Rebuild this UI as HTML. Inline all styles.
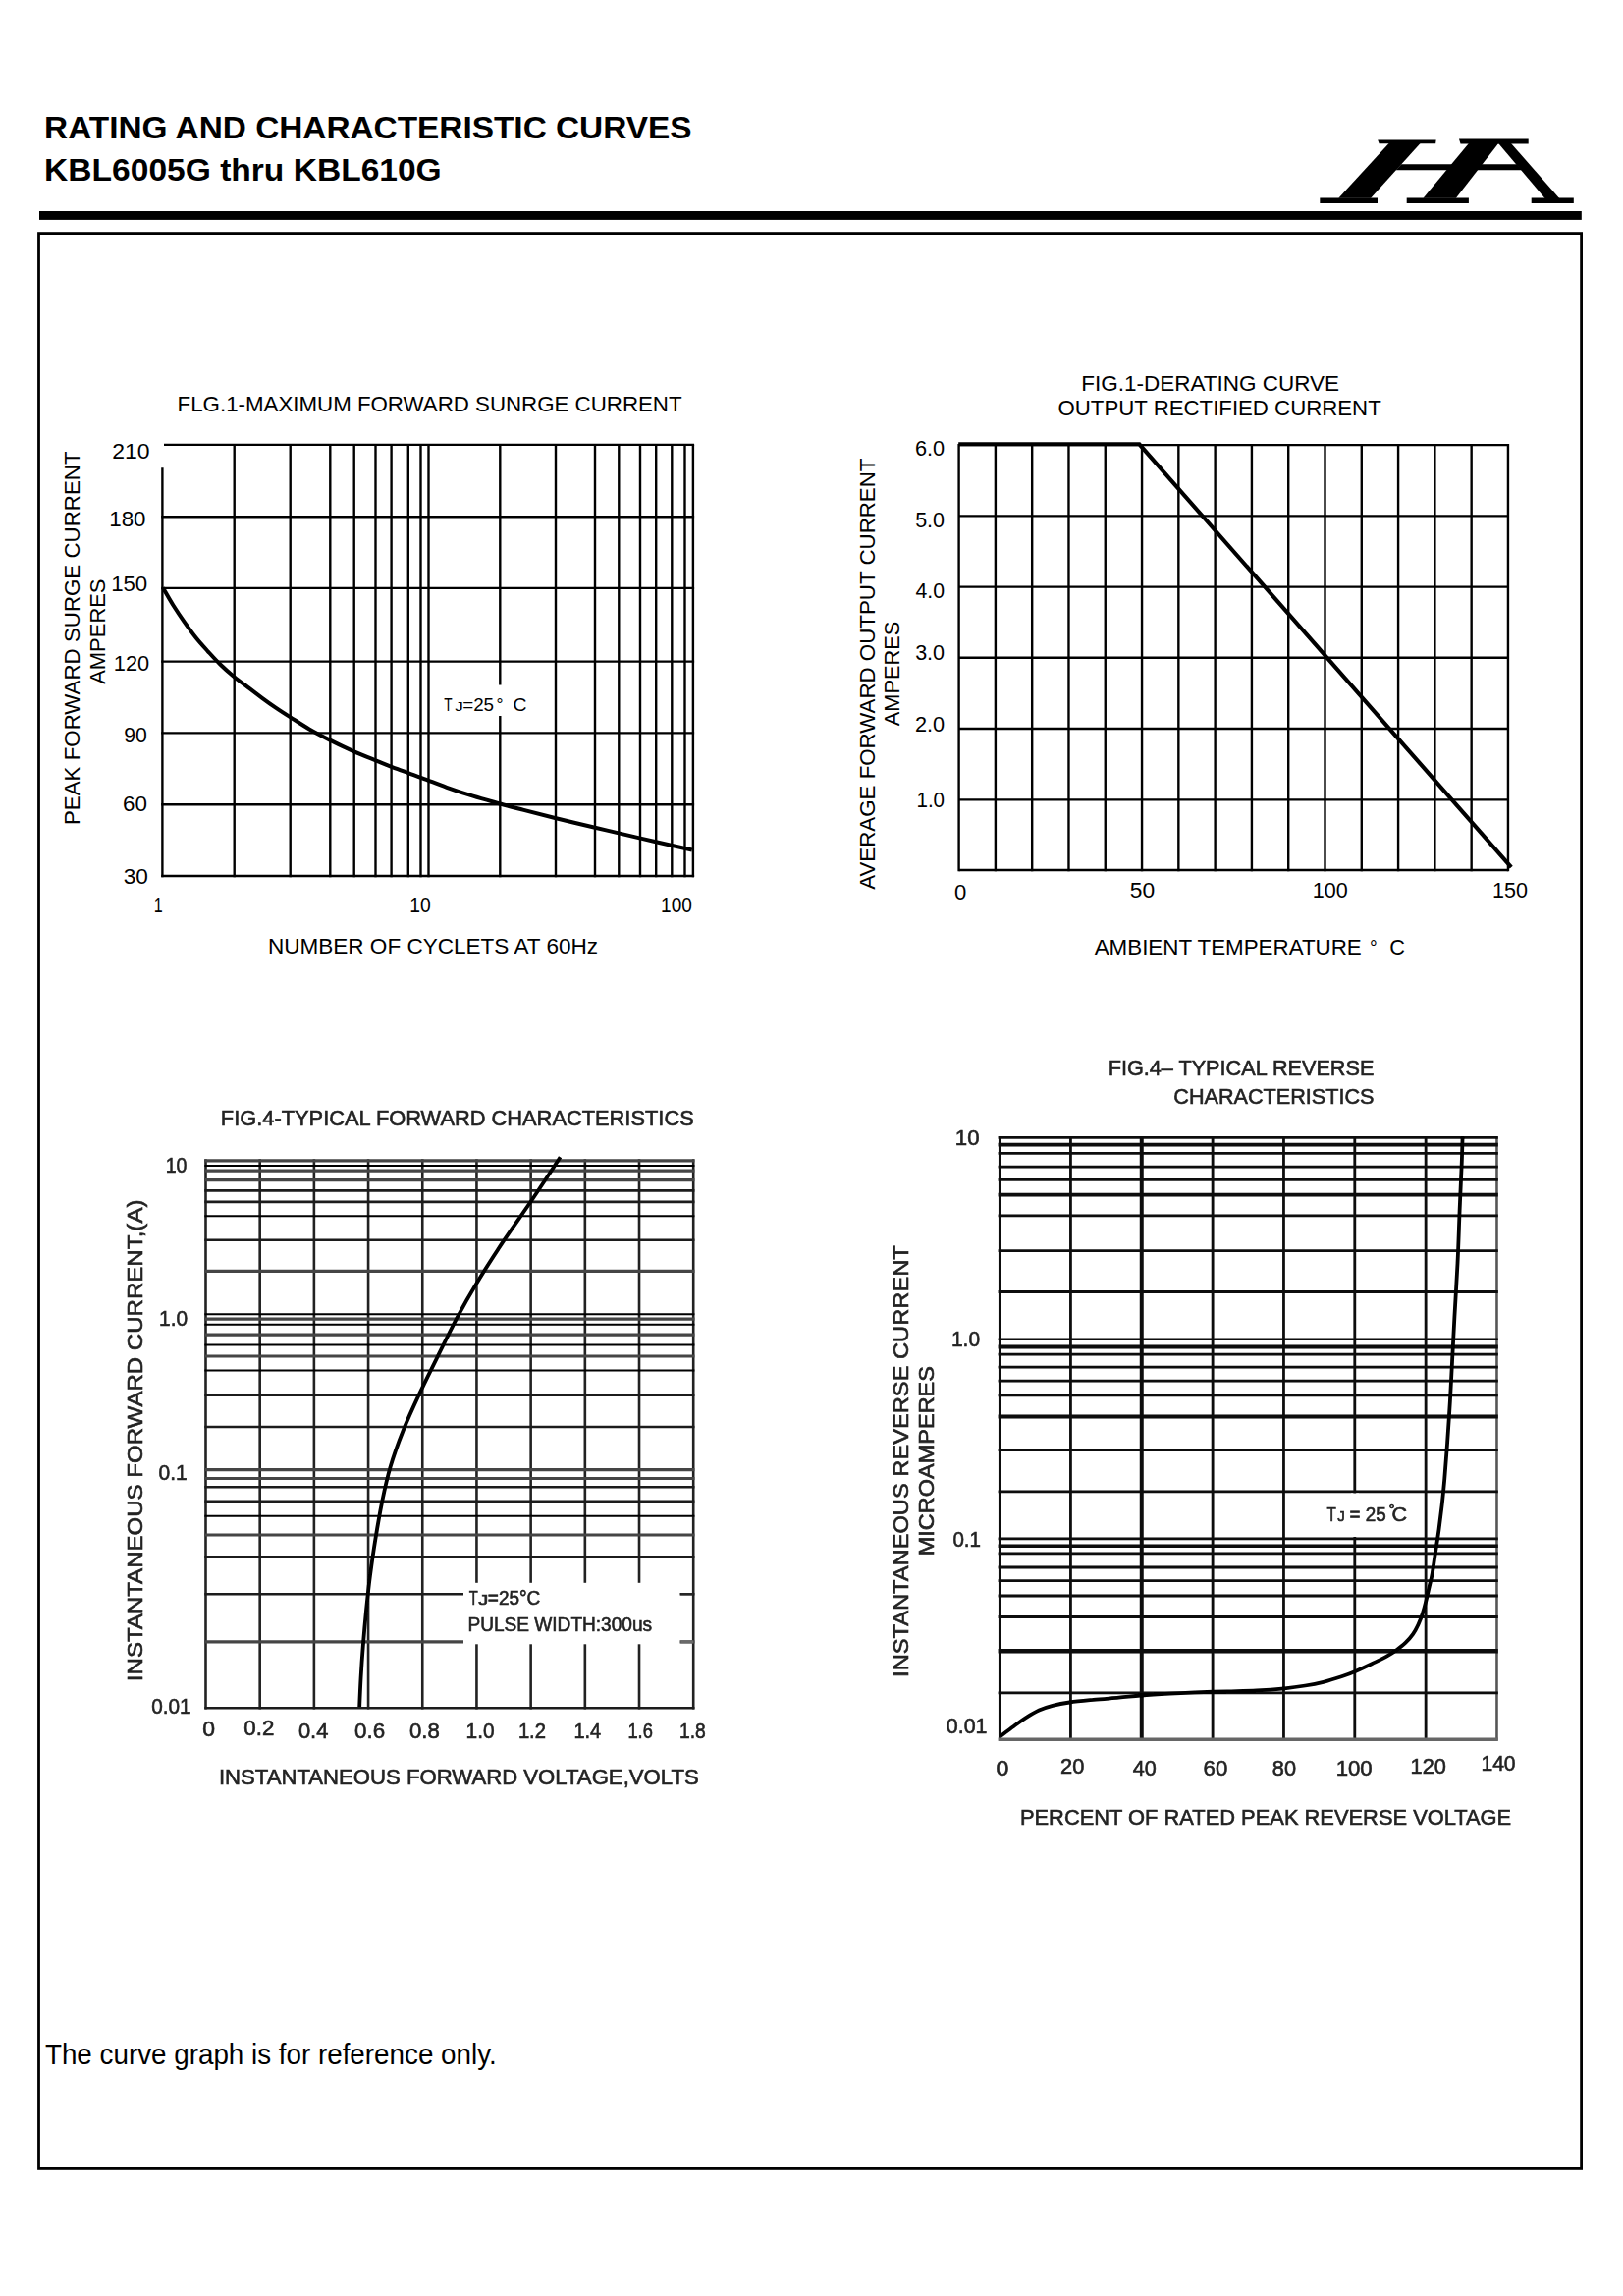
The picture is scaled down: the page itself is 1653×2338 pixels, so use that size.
<!DOCTYPE html>
<html><head><meta charset="utf-8"><title>KBL6005G thru KBL610G - Rating and Characteristic Curves</title>
<style>
html,body{margin:0;padding:0;background:#fff;}
body{width:1653px;height:2338px;overflow:hidden;}
svg{display:block;font-family:"Liberation Sans",sans-serif;}
</style></head><body>
<svg width="1653" height="2338" viewBox="0 0 1653 2338">
<defs><filter id="blur" x="-5%" y="-5%" width="110%" height="110%"><feGaussianBlur stdDeviation="0.55"/></filter></defs>
<rect width="1653" height="2338" fill="#fff"/>
<text x="45.13" y="140.50" font-size="32.2" textLength="659.34" lengthAdjust="spacingAndGlyphs" fill="#000" font-weight="bold">RATING AND CHARACTERISTIC CURVES</text>
<text x="45.12" y="184.40" font-size="32.2" textLength="404.62" lengthAdjust="spacingAndGlyphs" fill="#000" font-weight="bold">KBL6005G thru KBL610G</text>
<rect x="40.00" y="215.00" width="1570.80" height="8.90" fill="#000"/>
<rect x="39.5" y="237.6" width="1571.1" height="1970.8" fill="none" stroke="#000" stroke-width="2.8"/>
<polygon points="1415.0,145.6 1447.0,145.6 1396.1,201.8 1363.3,201.8" fill="#000"/>
<polygon points="1403.2,142.4 1462.6,142.4 1462.2,146.2 1404.6,146.2" fill="#000"/>
<polygon points="1344.3,201.4 1403.0,201.4 1403.0,206.9 1344.3,206.9" fill="#000"/>
<polygon points="1495.9,146.0 1526.1,146.0 1482.9,201.8 1449.5,201.8" fill="#000"/>
<polygon points="1486.0,141.6 1556.7,141.6 1556.7,146.6 1487.5,146.6" fill="#000"/>
<polygon points="1432.7,201.4 1495.9,201.4 1495.9,206.9 1432.7,206.9" fill="#000"/>
<polygon points="1427.3,167.3 1545.0,167.3 1550.0,173.3 1421.5,173.3" fill="#000"/>
<polygon points="1526.1,146.0 1539.0,146.0 1588.2,202.0 1573.5,202.0" fill="#000"/>
<polygon points="1559.7,201.4 1602.8,201.4 1602.8,206.9 1559.7,206.9" fill="#000"/>
<line x1="165.40" y1="476.20" x2="165.40" y2="893.20" stroke="#000" stroke-width="2.4"/>
<line x1="238.70" y1="452.90" x2="238.70" y2="893.20" stroke="#000" stroke-width="2.4"/>
<line x1="295.70" y1="452.90" x2="295.70" y2="893.20" stroke="#000" stroke-width="2.4"/>
<line x1="336.30" y1="452.90" x2="336.30" y2="893.20" stroke="#000" stroke-width="2.4"/>
<line x1="360.70" y1="452.90" x2="360.70" y2="893.20" stroke="#000" stroke-width="2.4"/>
<line x1="382.50" y1="452.90" x2="382.50" y2="893.20" stroke="#000" stroke-width="2.4"/>
<line x1="398.60" y1="452.90" x2="398.60" y2="893.20" stroke="#000" stroke-width="2.4"/>
<line x1="415.80" y1="452.90" x2="415.80" y2="893.20" stroke="#000" stroke-width="2.4"/>
<line x1="428.50" y1="452.90" x2="428.50" y2="893.20" stroke="#000" stroke-width="2.4"/>
<line x1="436.50" y1="452.90" x2="436.50" y2="893.20" stroke="#000" stroke-width="2.4"/>
<line x1="509.30" y1="452.90" x2="509.30" y2="893.20" stroke="#000" stroke-width="2.4"/>
<line x1="566.00" y1="452.90" x2="566.00" y2="893.20" stroke="#000" stroke-width="2.4"/>
<line x1="606.00" y1="452.90" x2="606.00" y2="893.20" stroke="#000" stroke-width="2.4"/>
<line x1="630.30" y1="452.90" x2="630.30" y2="893.20" stroke="#000" stroke-width="2.4"/>
<line x1="652.00" y1="452.90" x2="652.00" y2="893.20" stroke="#000" stroke-width="2.4"/>
<line x1="668.20" y1="452.90" x2="668.20" y2="893.20" stroke="#000" stroke-width="2.4"/>
<line x1="684.30" y1="452.90" x2="684.30" y2="893.20" stroke="#000" stroke-width="2.4"/>
<line x1="697.50" y1="452.90" x2="697.50" y2="893.20" stroke="#000" stroke-width="2.4"/>
<line x1="705.90" y1="452.90" x2="705.90" y2="893.20" stroke="#000" stroke-width="2.4"/>
<line x1="167.00" y1="452.90" x2="707.10" y2="452.90" stroke="#000" stroke-width="2.4"/>
<line x1="164.20" y1="526.20" x2="707.10" y2="526.20" stroke="#000" stroke-width="2.4"/>
<line x1="164.20" y1="598.90" x2="707.10" y2="598.90" stroke="#000" stroke-width="2.4"/>
<line x1="164.20" y1="673.60" x2="707.10" y2="673.60" stroke="#000" stroke-width="2.4"/>
<line x1="164.20" y1="746.40" x2="707.10" y2="746.40" stroke="#000" stroke-width="2.4"/>
<line x1="164.20" y1="819.30" x2="707.10" y2="819.30" stroke="#000" stroke-width="2.4"/>
<line x1="164.20" y1="892.00" x2="707.10" y2="892.00" stroke="#000" stroke-width="2.4"/>
<rect x="451.00" y="697.50" width="92.00" height="31.50" fill="#fff"/>
<path d="M166.0,598.6 C167.8,601.6 172.9,610.8 176.5,616.5 C180.1,622.2 183.7,627.6 187.6,633.1 C191.5,638.6 195.7,644.5 199.7,649.5 C203.7,654.5 207.7,658.8 211.8,663.3 C215.9,667.8 220.1,672.5 224.5,676.8 C228.9,681.1 233.7,685.3 238.5,689.2 C243.3,693.1 248.4,696.8 253.2,700.4 C257.9,704.0 262.4,707.4 267.0,710.8 C271.6,714.2 276.1,717.4 280.8,720.6 C285.5,723.8 289.7,726.5 295.4,730.1 C301.1,733.7 308.2,738.5 315.0,742.4 C321.8,746.3 328.5,749.8 336.0,753.6 C343.5,757.4 352.3,761.7 360.1,765.1 C367.9,768.5 375.1,771.3 382.6,774.3 C390.1,777.3 397.1,780.2 405.0,783.2 C412.9,786.2 421.7,789.2 430.0,792.3 C438.3,795.4 446.4,798.7 455.0,801.8 C463.6,804.9 472.7,807.9 481.8,810.7 C490.9,813.5 500.8,816.1 509.4,818.5 C518.0,820.9 524.0,822.4 533.5,824.9 C543.0,827.4 554.2,830.2 566.3,833.2 C578.4,836.2 595.4,840.2 606.0,842.7 C616.6,845.2 619.8,846.0 630.1,848.4 C640.5,850.8 655.7,854.4 668.1,857.2 C680.5,860.1 698.7,864.1 704.8,865.5" fill="none" stroke="#000" stroke-width="4" stroke-linecap="butt" stroke-linejoin="round"/>
<text x="180.62" y="418.60" font-size="22.5" textLength="513.97" lengthAdjust="spacingAndGlyphs" fill="#000">FLG.1-MAXIMUM FORWARD SUNRGE CURRENT</text>
<text x="114.25" y="466.80" font-size="22.5" textLength="38.33" lengthAdjust="spacingAndGlyphs" fill="#000">210</text>
<text x="111.23" y="535.70" font-size="22.5" textLength="37.23" lengthAdjust="spacingAndGlyphs" fill="#000">180</text>
<text x="113.14" y="602.00" font-size="22.5" textLength="37.02" lengthAdjust="spacingAndGlyphs" fill="#000">150</text>
<text x="115.87" y="682.60" font-size="22.5" textLength="36.27" lengthAdjust="spacingAndGlyphs" fill="#000">120</text>
<text x="126.35" y="755.60" font-size="22.5" textLength="23.54" lengthAdjust="spacingAndGlyphs" fill="#000">90</text>
<text x="125.08" y="826.30" font-size="22.5" textLength="24.85" lengthAdjust="spacingAndGlyphs" fill="#000">60</text>
<text x="125.70" y="899.50" font-size="22.5" textLength="25.15" lengthAdjust="spacingAndGlyphs" fill="#000">30</text>
<text x="156.79" y="929.30" font-size="22.5" textLength="8.95" lengthAdjust="spacingAndGlyphs" fill="#000">1</text>
<text x="417.15" y="929.30" font-size="22.5" textLength="21.47" lengthAdjust="spacingAndGlyphs" fill="#000">10</text>
<text x="673.07" y="929.30" font-size="22.5" textLength="31.76" lengthAdjust="spacingAndGlyphs" fill="#000">100</text>
<text x="272.90" y="970.70" font-size="22.5" textLength="336.16" lengthAdjust="spacingAndGlyphs" fill="#000">NUMBER OF CYCLETS AT 60Hz</text>
<text transform="translate(81.40,838.30) rotate(-90)" x="-1.78" y="0" font-size="22.5" textLength="380.59" lengthAdjust="spacingAndGlyphs" fill="#000">PEAK FORWARD SURGE CURRENT</text>
<text transform="translate(106.90,696.80) rotate(-90)" x="-0.00" y="0" font-size="22.5" textLength="107.30" lengthAdjust="spacingAndGlyphs" fill="#000">AMPERES</text>
<text x="452.13" y="723.50" font-size="19" textLength="8.36" lengthAdjust="spacingAndGlyphs" fill="#000">T</text>
<text x="463.24" y="723.70" font-size="12.5" textLength="8.54" lengthAdjust="spacingAndGlyphs" fill="#000">J</text>
<text x="471.16" y="723.50" font-size="19" textLength="31.92" lengthAdjust="spacingAndGlyphs" fill="#000">=25</text>
<text x="505.55" y="723.50" font-size="19" textLength="7.00" lengthAdjust="spacingAndGlyphs" fill="#000">°</text>
<text x="522.63" y="723.50" font-size="19" textLength="13.99" lengthAdjust="spacingAndGlyphs" fill="#000">C</text>
<line x1="976.60" y1="451.90" x2="976.60" y2="887.20" stroke="#000" stroke-width="2.4"/>
<line x1="1013.89" y1="451.90" x2="1013.89" y2="887.20" stroke="#000" stroke-width="2.4"/>
<line x1="1051.18" y1="451.90" x2="1051.18" y2="887.20" stroke="#000" stroke-width="2.4"/>
<line x1="1088.47" y1="451.90" x2="1088.47" y2="887.20" stroke="#000" stroke-width="2.4"/>
<line x1="1125.76" y1="451.90" x2="1125.76" y2="887.20" stroke="#000" stroke-width="2.4"/>
<line x1="1163.05" y1="451.90" x2="1163.05" y2="887.20" stroke="#000" stroke-width="2.4"/>
<line x1="1200.34" y1="451.90" x2="1200.34" y2="887.20" stroke="#000" stroke-width="2.4"/>
<line x1="1237.63" y1="451.90" x2="1237.63" y2="887.20" stroke="#000" stroke-width="2.4"/>
<line x1="1274.92" y1="451.90" x2="1274.92" y2="887.20" stroke="#000" stroke-width="2.4"/>
<line x1="1312.21" y1="451.90" x2="1312.21" y2="887.20" stroke="#000" stroke-width="2.4"/>
<line x1="1349.50" y1="451.90" x2="1349.50" y2="887.20" stroke="#000" stroke-width="2.4"/>
<line x1="1386.79" y1="451.90" x2="1386.79" y2="887.20" stroke="#000" stroke-width="2.4"/>
<line x1="1424.08" y1="451.90" x2="1424.08" y2="887.20" stroke="#000" stroke-width="2.4"/>
<line x1="1461.37" y1="451.90" x2="1461.37" y2="887.20" stroke="#000" stroke-width="2.4"/>
<line x1="1498.66" y1="451.90" x2="1498.66" y2="887.20" stroke="#000" stroke-width="2.4"/>
<line x1="1535.95" y1="451.90" x2="1535.95" y2="887.20" stroke="#000" stroke-width="2.4"/>
<line x1="976.60" y1="453.10" x2="1535.95" y2="453.10" stroke="#000" stroke-width="2.4"/>
<line x1="976.60" y1="525.40" x2="1535.95" y2="525.40" stroke="#000" stroke-width="2.4"/>
<line x1="976.60" y1="597.60" x2="1535.95" y2="597.60" stroke="#000" stroke-width="2.4"/>
<line x1="976.60" y1="669.80" x2="1535.95" y2="669.80" stroke="#000" stroke-width="2.4"/>
<line x1="976.60" y1="742.00" x2="1535.95" y2="742.00" stroke="#000" stroke-width="2.4"/>
<line x1="976.60" y1="814.40" x2="1535.95" y2="814.40" stroke="#000" stroke-width="2.4"/>
<line x1="976.60" y1="886.00" x2="1535.95" y2="886.00" stroke="#000" stroke-width="2.4"/>
<path d="M976.2,452.3 L1160.4,452.3 L1539.2,883.2" fill="none" stroke="#000" stroke-width="4.1" stroke-linejoin="miter"/>
<text x="1101.30" y="397.60" font-size="22.5" textLength="262.74" lengthAdjust="spacingAndGlyphs" fill="#000">FIG.1-DERATING CURVE</text>
<text x="1077.50" y="422.50" font-size="22.5" textLength="329.25" lengthAdjust="spacingAndGlyphs" fill="#000">OUTPUT RECTIFIED CURRENT</text>
<text x="931.92" y="463.80" font-size="22.5" textLength="30.15" lengthAdjust="spacingAndGlyphs" fill="#000">6.0</text>
<text x="932.14" y="536.70" font-size="22.5" textLength="29.92" lengthAdjust="spacingAndGlyphs" fill="#000">5.0</text>
<text x="932.58" y="609.00" font-size="22.5" textLength="29.47" lengthAdjust="spacingAndGlyphs" fill="#000">4.0</text>
<text x="932.14" y="672.20" font-size="22.5" textLength="29.92" lengthAdjust="spacingAndGlyphs" fill="#000">3.0</text>
<text x="931.92" y="744.70" font-size="22.5" textLength="30.15" lengthAdjust="spacingAndGlyphs" fill="#000">2.0</text>
<text x="933.46" y="822.00" font-size="22.5" textLength="28.56" lengthAdjust="spacingAndGlyphs" fill="#000">1.0</text>
<text x="972.12" y="915.90" font-size="22.5" textLength="12.28" lengthAdjust="spacingAndGlyphs" fill="#000">0</text>
<text x="1150.89" y="914.40" font-size="22.5" textLength="25.36" lengthAdjust="spacingAndGlyphs" fill="#000">50</text>
<text x="1336.68" y="914.40" font-size="22.5" textLength="35.95" lengthAdjust="spacingAndGlyphs" fill="#000">100</text>
<text x="1519.98" y="914.40" font-size="22.5" textLength="35.95" lengthAdjust="spacingAndGlyphs" fill="#000">150</text>
<text x="1114.70" y="972.00" font-size="22.5" textLength="272.08" lengthAdjust="spacingAndGlyphs" fill="#000">AMBIENT TEMPERATURE</text>
<text x="1394.94" y="972.00" font-size="21" textLength="7.71" lengthAdjust="spacingAndGlyphs" fill="#000">°</text>
<text x="1415.21" y="972.00" font-size="22.5" textLength="15.69" lengthAdjust="spacingAndGlyphs" fill="#000">C</text>
<text transform="translate(890.90,905.80) rotate(-90)" x="-0.00" y="0" font-size="22.5" textLength="439.29" lengthAdjust="spacingAndGlyphs" fill="#000">AVERAGE FORWARD OUTPUT CURRENT</text>
<text transform="translate(915.90,739.20) rotate(-90)" x="-0.00" y="0" font-size="22.5" textLength="106.59" lengthAdjust="spacingAndGlyphs" fill="#000">AMPERES</text>
<g filter="url(#blur)">
<line x1="209.50" y1="1180.30" x2="209.50" y2="1740.40" stroke="#222" stroke-width="2.6"/>
<line x1="264.69" y1="1180.30" x2="264.69" y2="1740.40" stroke="#222" stroke-width="2.6"/>
<line x1="319.88" y1="1180.30" x2="319.88" y2="1740.40" stroke="#222" stroke-width="2.6"/>
<line x1="375.07" y1="1180.30" x2="375.07" y2="1740.40" stroke="#222" stroke-width="2.6"/>
<line x1="430.26" y1="1180.30" x2="430.26" y2="1740.40" stroke="#222" stroke-width="2.6"/>
<line x1="485.45" y1="1180.30" x2="485.45" y2="1740.40" stroke="#222" stroke-width="2.6"/>
<line x1="540.64" y1="1180.30" x2="540.64" y2="1740.40" stroke="#222" stroke-width="2.6"/>
<line x1="595.83" y1="1180.30" x2="595.83" y2="1740.40" stroke="#222" stroke-width="2.6"/>
<line x1="651.02" y1="1180.30" x2="651.02" y2="1740.40" stroke="#222" stroke-width="2.6"/>
<line x1="706.21" y1="1180.30" x2="706.21" y2="1740.40" stroke="#222" stroke-width="2.6"/>
<line x1="208.30" y1="1181.80" x2="707.41" y2="1181.80" stroke="#444" stroke-width="3.2"/>
<line x1="208.30" y1="1186.90" x2="707.41" y2="1186.90" stroke="#000" stroke-width="2.0"/>
<line x1="208.30" y1="1192.20" x2="707.41" y2="1192.20" stroke="#444" stroke-width="3.2"/>
<line x1="208.30" y1="1201.60" x2="707.41" y2="1201.60" stroke="#444" stroke-width="3.2"/>
<line x1="208.30" y1="1212.40" x2="707.41" y2="1212.40" stroke="#1c1c1c" stroke-width="2.6"/>
<line x1="208.30" y1="1223.90" x2="707.41" y2="1223.90" stroke="#1c1c1c" stroke-width="2.6"/>
<line x1="208.30" y1="1238.30" x2="707.41" y2="1238.30" stroke="#000" stroke-width="2.0"/>
<line x1="208.30" y1="1262.70" x2="707.41" y2="1262.70" stroke="#1c1c1c" stroke-width="2.6"/>
<line x1="208.30" y1="1294.40" x2="707.41" y2="1294.40" stroke="#444" stroke-width="3.2"/>
<line x1="208.30" y1="1338.30" x2="707.41" y2="1338.30" stroke="#000" stroke-width="2.0"/>
<line x1="208.30" y1="1343.20" x2="707.41" y2="1343.20" stroke="#444" stroke-width="3.2"/>
<line x1="208.30" y1="1348.70" x2="707.41" y2="1348.70" stroke="#000" stroke-width="2.0"/>
<line x1="208.30" y1="1359.10" x2="707.41" y2="1359.10" stroke="#444" stroke-width="3.2"/>
<line x1="208.30" y1="1369.60" x2="707.41" y2="1369.60" stroke="#000" stroke-width="2.0"/>
<line x1="208.30" y1="1381.00" x2="707.41" y2="1381.00" stroke="#444" stroke-width="3.2"/>
<line x1="208.30" y1="1395.50" x2="707.41" y2="1395.50" stroke="#000" stroke-width="2.0"/>
<line x1="208.30" y1="1420.60" x2="707.41" y2="1420.60" stroke="#1c1c1c" stroke-width="2.6"/>
<line x1="208.30" y1="1453.00" x2="707.41" y2="1453.00" stroke="#1c1c1c" stroke-width="2.6"/>
<line x1="208.30" y1="1496.60" x2="707.41" y2="1496.60" stroke="#444" stroke-width="3.2"/>
<line x1="208.30" y1="1505.50" x2="707.41" y2="1505.50" stroke="#444" stroke-width="3.2"/>
<line x1="208.30" y1="1514.30" x2="707.41" y2="1514.30" stroke="#1c1c1c" stroke-width="2.6"/>
<line x1="208.30" y1="1528.80" x2="707.41" y2="1528.80" stroke="#1c1c1c" stroke-width="2.6"/>
<line x1="208.30" y1="1543.80" x2="707.41" y2="1543.80" stroke="#000" stroke-width="2.0"/>
<line x1="208.30" y1="1563.00" x2="707.41" y2="1563.00" stroke="#444" stroke-width="3.2"/>
<line x1="208.30" y1="1585.20" x2="707.41" y2="1585.20" stroke="#1c1c1c" stroke-width="2.6"/>
<line x1="208.30" y1="1623.20" x2="707.41" y2="1623.20" stroke="#1c1c1c" stroke-width="2.6"/>
<line x1="208.30" y1="1671.90" x2="707.41" y2="1671.90" stroke="#444" stroke-width="3.2"/>
<line x1="208.30" y1="1739.20" x2="707.41" y2="1739.20" stroke="#1c1c1c" stroke-width="2.6"/>
<rect x="472.00" y="1611.80" width="220.50" height="62.50" fill="#fff"/>
<line x1="693.21" y1="1623.20" x2="706.21" y2="1623.20" stroke="#262626" stroke-width="2.4"/>
<line x1="693.21" y1="1671.90" x2="706.21" y2="1671.90" stroke="#6a6a6a" stroke-width="3.0"/>
<path d="M570.6,1178.3 C565.9,1185.5 551.7,1207.2 542.2,1221.3 C532.7,1235.4 522.7,1248.9 513.4,1262.9 C504.1,1276.9 494.2,1292.2 486.2,1305.4 C478.2,1318.6 472.2,1329.1 465.3,1342.2 C458.4,1355.3 450.9,1371.0 444.5,1383.9 C438.1,1396.9 432.6,1407.7 426.9,1419.9 C421.2,1432.1 415.4,1444.7 410.5,1457.0 C405.6,1469.3 401.1,1481.8 397.5,1494.0 C393.9,1506.2 391.5,1517.7 389.0,1530.0 C386.5,1542.3 384.3,1555.3 382.3,1567.6 C380.3,1579.9 378.6,1591.9 377.0,1604.0 C375.4,1616.1 374.2,1628.0 373.0,1640.0 C371.8,1652.0 370.7,1664.7 369.8,1676.0 C368.9,1687.3 368.2,1697.7 367.6,1708.0 C367.0,1718.3 366.4,1733.0 366.2,1738.0" fill="none" stroke="#000" stroke-width="3.8" stroke-linecap="butt" stroke-linejoin="round"/>
<text x="224.85" y="1146.20" font-size="22.6" textLength="481.87" lengthAdjust="spacingAndGlyphs" fill="#222" stroke="#222" stroke-width="0.6">FIG.4-TYPICAL FORWARD CHARACTERISTICS</text>
<text x="168.63" y="1194.40" font-size="22.6" textLength="21.80" lengthAdjust="spacingAndGlyphs" fill="#222" stroke="#222" stroke-width="0.6">10</text>
<text x="162.04" y="1350.00" font-size="22.6" textLength="29.00" lengthAdjust="spacingAndGlyphs" fill="#222" stroke="#222" stroke-width="0.6">1.0</text>
<text x="161.46" y="1507.30" font-size="22.6" textLength="29.19" lengthAdjust="spacingAndGlyphs" fill="#222" stroke="#222" stroke-width="0.6">0.1</text>
<text x="154.17" y="1744.60" font-size="22.6" textLength="40.39" lengthAdjust="spacingAndGlyphs" fill="#222" stroke="#222" stroke-width="0.6">0.01</text>
<text x="206.38" y="1768.20" font-size="22.6" textLength="12.75" lengthAdjust="spacingAndGlyphs" fill="#222" stroke="#222" stroke-width="0.6">0</text>
<text x="248.31" y="1767.20" font-size="22.6" textLength="31.01" lengthAdjust="spacingAndGlyphs" fill="#222" stroke="#222" stroke-width="0.6">0.2</text>
<text x="303.92" y="1769.90" font-size="22.6" textLength="30.44" lengthAdjust="spacingAndGlyphs" fill="#222" stroke="#222" stroke-width="0.6">0.4</text>
<text x="361.11" y="1769.90" font-size="22.6" textLength="31.09" lengthAdjust="spacingAndGlyphs" fill="#222" stroke="#222" stroke-width="0.6">0.6</text>
<text x="417.01" y="1769.90" font-size="22.6" textLength="30.77" lengthAdjust="spacingAndGlyphs" fill="#222" stroke="#222" stroke-width="0.6">0.8</text>
<text x="474.54" y="1769.90" font-size="22.6" textLength="29.00" lengthAdjust="spacingAndGlyphs" fill="#222" stroke="#222" stroke-width="0.6">1.0</text>
<text x="527.88" y="1769.90" font-size="22.6" textLength="28.13" lengthAdjust="spacingAndGlyphs" fill="#222" stroke="#222" stroke-width="0.6">1.2</text>
<text x="584.40" y="1769.90" font-size="22.6" textLength="27.80" lengthAdjust="spacingAndGlyphs" fill="#222" stroke="#222" stroke-width="0.6">1.4</text>
<text x="639.43" y="1769.90" font-size="22.6" textLength="25.40" lengthAdjust="spacingAndGlyphs" fill="#222" stroke="#222" stroke-width="0.6">1.6</text>
<text x="691.95" y="1769.90" font-size="22.6" textLength="26.82" lengthAdjust="spacingAndGlyphs" fill="#222" stroke="#222" stroke-width="0.6">1.8</text>
<text x="222.91" y="1816.50" font-size="22.6" textLength="488.84" lengthAdjust="spacingAndGlyphs" fill="#222" stroke="#222" stroke-width="0.6">INSTANTANEOUS FORWARD VOLTAGE,VOLTS</text>
<text transform="translate(145.40,1710.00) rotate(-90)" x="-2.16" y="0" font-size="22.6" textLength="490.58" lengthAdjust="spacingAndGlyphs" fill="#222" stroke="#222" stroke-width="0.6">INSTANTANEOUS FORWARD CURRENT,(A)</text>
<text x="477.71" y="1634.00" font-size="20" textLength="9.00" lengthAdjust="spacingAndGlyphs" fill="#222" stroke="#222" stroke-width="0.6">T</text>
<text x="487.30" y="1634.20" font-size="14.5" textLength="10.00" lengthAdjust="spacingAndGlyphs" fill="#222" stroke="#222" stroke-width="0.6">J</text>
<text x="496.85" y="1634.00" font-size="20" textLength="53.48" lengthAdjust="spacingAndGlyphs" fill="#222" stroke="#222" stroke-width="0.6">=25°C</text>
<text x="476.47" y="1660.70" font-size="20" textLength="187.62" lengthAdjust="spacingAndGlyphs" fill="#222" stroke="#222" stroke-width="0.6">PULSE WIDTH:300us</text>
</g>
<g filter="url(#blur)">
<line x1="1018.10" y1="1157.30" x2="1018.10" y2="1772.40" stroke="#0a0a0a" stroke-width="2.3"/>
<line x1="1090.44" y1="1157.30" x2="1090.44" y2="1772.40" stroke="#0a0a0a" stroke-width="2.8"/>
<line x1="1162.78" y1="1157.30" x2="1162.78" y2="1772.40" stroke="#0a0a0a" stroke-width="4.0"/>
<line x1="1235.12" y1="1157.30" x2="1235.12" y2="1772.40" stroke="#0a0a0a" stroke-width="2.8"/>
<line x1="1307.46" y1="1157.30" x2="1307.46" y2="1772.40" stroke="#0a0a0a" stroke-width="2.8"/>
<line x1="1379.80" y1="1157.30" x2="1379.80" y2="1772.40" stroke="#0a0a0a" stroke-width="2.8"/>
<line x1="1452.14" y1="1157.30" x2="1452.14" y2="1772.40" stroke="#0a0a0a" stroke-width="2.8"/>
<line x1="1524.48" y1="1157.30" x2="1524.48" y2="1772.40" stroke="#555" stroke-width="2.6"/>
<line x1="1016.60" y1="1158.30" x2="1525.78" y2="1158.30" stroke="#0a0a0a" stroke-width="2.8000000000000003"/>
<line x1="1016.60" y1="1165.70" x2="1525.78" y2="1165.70" stroke="#0a0a0a" stroke-width="3.8000000000000003"/>
<line x1="1016.60" y1="1174.40" x2="1525.78" y2="1174.40" stroke="#0a0a0a" stroke-width="2.8000000000000003"/>
<line x1="1016.60" y1="1188.10" x2="1525.78" y2="1188.10" stroke="#0a0a0a" stroke-width="2.8000000000000003"/>
<line x1="1016.60" y1="1201.30" x2="1525.78" y2="1201.30" stroke="#0a0a0a" stroke-width="2.8000000000000003"/>
<line x1="1016.60" y1="1216.60" x2="1525.78" y2="1216.60" stroke="#0a0a0a" stroke-width="3.6"/>
<line x1="1016.60" y1="1237.80" x2="1525.78" y2="1237.80" stroke="#0a0a0a" stroke-width="2.8000000000000003"/>
<line x1="1016.60" y1="1273.60" x2="1525.78" y2="1273.60" stroke="#0a0a0a" stroke-width="2.8000000000000003"/>
<line x1="1016.60" y1="1315.50" x2="1525.78" y2="1315.50" stroke="#0a0a0a" stroke-width="2.8000000000000003"/>
<line x1="1016.60" y1="1363.80" x2="1525.78" y2="1363.80" stroke="#0a0a0a" stroke-width="2.6"/>
<line x1="1016.60" y1="1371.50" x2="1525.78" y2="1371.50" stroke="#0a0a0a" stroke-width="4.0"/>
<line x1="1016.60" y1="1379.10" x2="1525.78" y2="1379.10" stroke="#0a0a0a" stroke-width="2.8000000000000003"/>
<line x1="1016.60" y1="1392.20" x2="1525.78" y2="1392.20" stroke="#0a0a0a" stroke-width="2.8000000000000003"/>
<line x1="1016.60" y1="1406.20" x2="1525.78" y2="1406.20" stroke="#0a0a0a" stroke-width="2.8000000000000003"/>
<line x1="1016.60" y1="1420.80" x2="1525.78" y2="1420.80" stroke="#0a0a0a" stroke-width="2.8000000000000003"/>
<line x1="1016.60" y1="1442.50" x2="1525.78" y2="1442.50" stroke="#0a0a0a" stroke-width="3.8000000000000003"/>
<line x1="1016.60" y1="1476.60" x2="1525.78" y2="1476.60" stroke="#0a0a0a" stroke-width="2.8000000000000003"/>
<line x1="1016.60" y1="1518.80" x2="1525.78" y2="1518.80" stroke="#0a0a0a" stroke-width="2.8000000000000003"/>
<line x1="1016.60" y1="1566.80" x2="1525.78" y2="1566.80" stroke="#0a0a0a" stroke-width="2.8000000000000003"/>
<line x1="1016.60" y1="1574.30" x2="1525.78" y2="1574.30" stroke="#0a0a0a" stroke-width="3.4"/>
<line x1="1016.60" y1="1581.90" x2="1525.78" y2="1581.90" stroke="#0a0a0a" stroke-width="2.8000000000000003"/>
<line x1="1016.60" y1="1596.00" x2="1525.78" y2="1596.00" stroke="#0a0a0a" stroke-width="2.8000000000000003"/>
<line x1="1016.60" y1="1609.70" x2="1525.78" y2="1609.70" stroke="#0a0a0a" stroke-width="2.8000000000000003"/>
<line x1="1016.60" y1="1625.00" x2="1525.78" y2="1625.00" stroke="#0a0a0a" stroke-width="2.8000000000000003"/>
<line x1="1016.60" y1="1646.50" x2="1525.78" y2="1646.50" stroke="#0a0a0a" stroke-width="2.8000000000000003"/>
<line x1="1016.60" y1="1681.20" x2="1525.78" y2="1681.20" stroke="#0a0a0a" stroke-width="4.6"/>
<line x1="1016.60" y1="1723.90" x2="1525.78" y2="1723.90" stroke="#0a0a0a" stroke-width="2.6"/>
<line x1="1016.60" y1="1771.30" x2="1525.78" y2="1771.30" stroke="#666" stroke-width="3.6"/>
<rect x="1376.00" y="1520.50" width="8.00" height="44.50" fill="#fff"/>
<path d="M1018.6,1768.2 C1020.9,1766.5 1028.1,1761.1 1032.4,1758.0 C1036.7,1754.9 1040.2,1752.1 1044.5,1749.4 C1048.8,1746.7 1053.7,1743.7 1058.3,1741.6 C1062.9,1739.5 1066.9,1738.1 1072.1,1736.8 C1077.3,1735.5 1082.5,1734.5 1089.4,1733.5 C1096.3,1732.5 1105.2,1731.7 1113.5,1730.9 C1121.8,1730.1 1131.4,1729.4 1139.4,1728.7 C1147.5,1728.0 1153.2,1727.2 1161.8,1726.5 C1170.4,1725.8 1182.0,1725.1 1191.2,1724.6 C1200.4,1724.1 1207.2,1723.8 1217.0,1723.4 C1226.8,1723.0 1239.5,1722.6 1250.0,1722.3 C1260.5,1722.0 1270.3,1721.9 1280.0,1721.4 C1289.7,1720.9 1300.1,1720.1 1308.3,1719.3 C1316.5,1718.5 1322.7,1717.6 1329.3,1716.5 C1335.9,1715.4 1341.6,1714.3 1347.8,1712.8 C1354.0,1711.2 1360.8,1709.0 1366.3,1707.2 C1371.8,1705.4 1375.9,1703.9 1381.0,1701.7 C1386.1,1699.5 1391.9,1696.8 1397.1,1694.3 C1402.2,1691.8 1407.8,1689.2 1411.9,1686.9 C1416.0,1684.6 1418.4,1683.1 1421.7,1680.7 C1425.0,1678.3 1428.7,1675.5 1431.6,1672.7 C1434.5,1669.9 1436.8,1667.2 1439.0,1664.1 C1441.2,1661.0 1442.9,1657.7 1444.5,1654.2 C1446.1,1650.7 1447.5,1647.2 1448.8,1643.1 C1450.1,1639.0 1451.4,1634.1 1452.5,1629.6 C1453.6,1625.1 1454.6,1620.5 1455.6,1616.0 C1456.6,1611.5 1457.6,1608.8 1458.7,1602.5 C1459.8,1596.2 1461.2,1585.6 1462.4,1578.0 C1463.6,1570.4 1464.6,1564.5 1465.6,1557.0 C1466.6,1549.5 1467.6,1541.6 1468.6,1533.1 C1469.5,1524.5 1470.4,1516.4 1471.3,1505.7 C1472.2,1495.0 1473.2,1482.0 1474.1,1469.1 C1475.0,1456.1 1476.0,1441.7 1476.8,1428.0 C1477.6,1414.3 1478.2,1401.3 1479.0,1386.8 C1479.8,1372.3 1480.5,1357.8 1481.4,1341.0 C1482.3,1324.2 1483.6,1304.3 1484.5,1286.3 C1485.4,1268.3 1485.9,1249.8 1486.6,1233.0 C1487.3,1216.2 1488.2,1198.3 1488.7,1185.7 C1489.2,1173.1 1489.4,1162.2 1489.6,1157.5" fill="none" stroke="#000" stroke-width="3.8" stroke-linecap="butt" stroke-linejoin="round"/>
<text x="1128.67" y="1095.20" font-size="22.6" textLength="270.69" lengthAdjust="spacingAndGlyphs" fill="#222" stroke="#222" stroke-width="0.6">FIG.4– TYPICAL REVERSE</text>
<text x="1195.32" y="1123.90" font-size="22.6" textLength="204.17" lengthAdjust="spacingAndGlyphs" fill="#222" stroke="#222" stroke-width="0.6">CHARACTERISTICS</text>
<text x="972.84" y="1166.10" font-size="22.6" textLength="24.69" lengthAdjust="spacingAndGlyphs" fill="#222" stroke="#222" stroke-width="0.6">10</text>
<text x="968.93" y="1371.20" font-size="22.6" textLength="29.11" lengthAdjust="spacingAndGlyphs" fill="#222" stroke="#222" stroke-width="0.6">1.0</text>
<text x="970.38" y="1575.00" font-size="22.6" textLength="28.55" lengthAdjust="spacingAndGlyphs" fill="#222" stroke="#222" stroke-width="0.6">0.1</text>
<text x="963.84" y="1765.30" font-size="22.6" textLength="41.65" lengthAdjust="spacingAndGlyphs" fill="#222" stroke="#222" stroke-width="0.6">0.01</text>
<text x="1014.58" y="1807.60" font-size="22.6" textLength="12.86" lengthAdjust="spacingAndGlyphs" fill="#222" stroke="#222" stroke-width="0.6">0</text>
<text x="1080.01" y="1805.50" font-size="22.6" textLength="24.31" lengthAdjust="spacingAndGlyphs" fill="#222" stroke="#222" stroke-width="0.6">20</text>
<text x="1153.77" y="1807.60" font-size="22.6" textLength="24.04" lengthAdjust="spacingAndGlyphs" fill="#222" stroke="#222" stroke-width="0.6">40</text>
<text x="1225.59" y="1807.60" font-size="22.6" textLength="24.74" lengthAdjust="spacingAndGlyphs" fill="#222" stroke="#222" stroke-width="0.6">60</text>
<text x="1295.82" y="1807.60" font-size="22.6" textLength="24.19" lengthAdjust="spacingAndGlyphs" fill="#222" stroke="#222" stroke-width="0.6">80</text>
<text x="1360.64" y="1807.60" font-size="22.6" textLength="37.02" lengthAdjust="spacingAndGlyphs" fill="#222" stroke="#222" stroke-width="0.6">100</text>
<text x="1436.57" y="1805.50" font-size="22.6" textLength="36.27" lengthAdjust="spacingAndGlyphs" fill="#222" stroke="#222" stroke-width="0.6">120</text>
<text x="1508.42" y="1803.10" font-size="22.6" textLength="35.19" lengthAdjust="spacingAndGlyphs" fill="#222" stroke="#222" stroke-width="0.6">140</text>
<text x="1038.95" y="1858.30" font-size="22.6" textLength="500.25" lengthAdjust="spacingAndGlyphs" fill="#222" stroke="#222" stroke-width="0.6">PERCENT OF RATED PEAK REVERSE VOLTAGE</text>
<text transform="translate(924.50,1705.80) rotate(-90)" x="-2.13" y="0" font-size="22.6" textLength="439.65" lengthAdjust="spacingAndGlyphs" fill="#222" stroke="#222" stroke-width="0.6">INSTANTANEOUS REVERSE CURRENT</text>
<text transform="translate(950.90,1582.40) rotate(-90)" x="-1.88" y="0" font-size="22.6" textLength="193.22" lengthAdjust="spacingAndGlyphs" fill="#222" stroke="#222" stroke-width="0.6">MICROAMPERES</text>
<text x="1351.49" y="1548.80" font-size="20" textLength="9.32" lengthAdjust="spacingAndGlyphs" fill="#222" stroke="#222" stroke-width="0.6">T</text>
<text x="1362.37" y="1548.80" font-size="15.5" textLength="7.56" lengthAdjust="spacingAndGlyphs" fill="#222" stroke="#222" stroke-width="0.6">J</text>
<text x="1374.46" y="1548.80" font-size="20" textLength="37.18" lengthAdjust="spacingAndGlyphs" fill="#222" stroke="#222" stroke-width="0.6">= 25</text>
<text x="1414.58" y="1541.50" font-size="14" textLength="6.14" lengthAdjust="spacingAndGlyphs" fill="#222" stroke="#222" stroke-width="0.6">°</text>
<text x="1417.52" y="1548.80" font-size="20" textLength="15.58" lengthAdjust="spacingAndGlyphs" fill="#222" stroke="#222" stroke-width="0.6">C</text>
</g>
<text x="45.94" y="2101.90" font-size="28.6" textLength="459.77" lengthAdjust="spacingAndGlyphs" fill="#000">The curve graph is for reference only.</text>
</svg>
</body></html>
